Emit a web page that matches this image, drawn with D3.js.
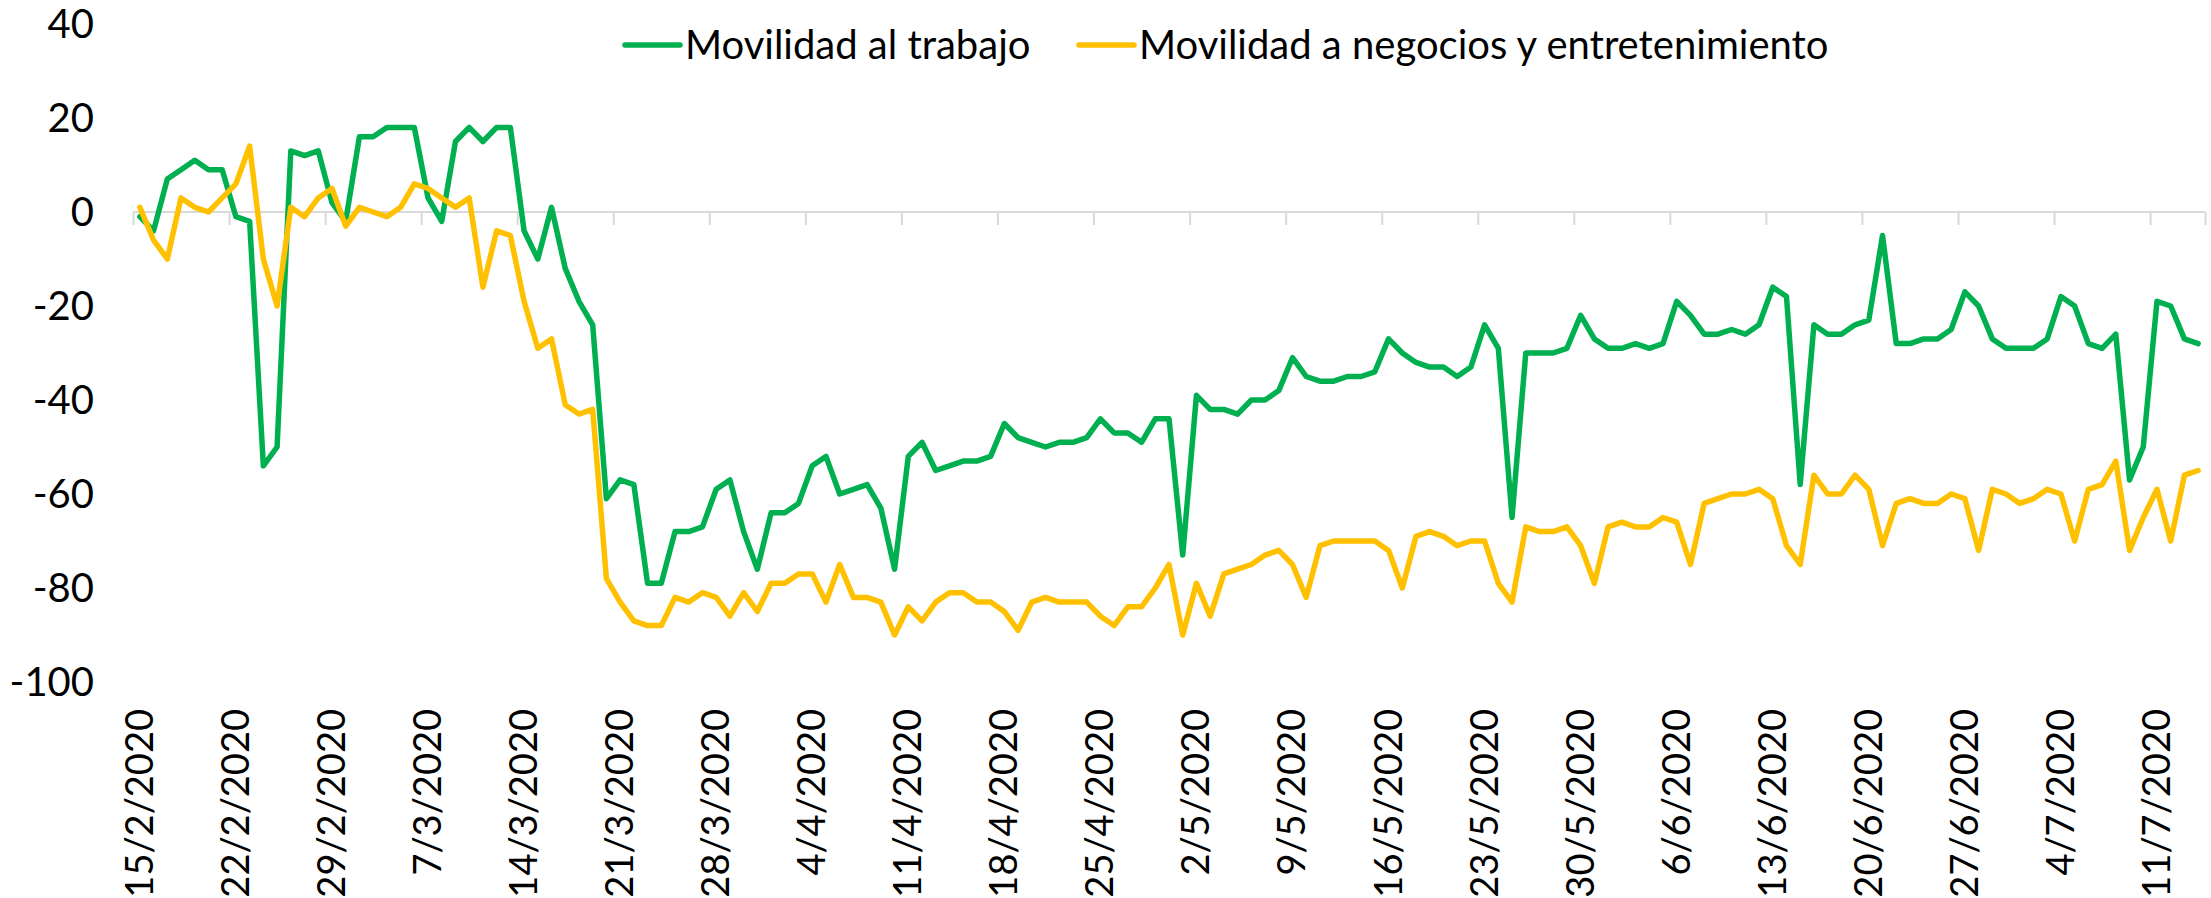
<!DOCTYPE html>
<html lang="es">
  <head>
    <meta charset="utf-8">
    <title>Movilidad</title>
    <script type="text/javascript" src="https://cdn.jsdelivr.net/npm/d3@7"></script>
<style>
body {
   margin: 0;
   background: #ffffff;
}
svg text {
   font-family: Lato, "Open Sans", sans-serif;
   fill: #000000;
}
</style>
  </head>
  <body>
    <script type="text/javascript">
      //
      // Movilidad diaria, 15/2/2020 - 14/7/2020
      //
      var firstDay = new Date(2020, 1, 15);
      var lastDay = new Date(2020, 6, 15);   // exclusive
      var days = d3.timeDay.range(firstDay, lastDay);

      var seriesNames = ["Movilidad al trabajo", "Movilidad a negocios y entretenimiento"];

      var trabajo = [
        -1, -4, 7, 9, 11, 9, 9, -1, -2, -54, -50, 13, 12, 13, 2, -2, 16, 16, 18, 18,
        18, 3, -2, 15, 18, 15, 18, 18, -4, -10, 1, -12, -19, -24, -61, -57, -58, -79, -79, -68,
        -68, -67, -59, -57, -68, -76, -64, -64, -62, -54, -52, -60, -59, -58, -63, -76, -52, -49, -55, -54,
        -53, -53, -52, -45, -48, -49, -50, -49, -49, -48, -44, -47, -47, -49, -44, -44, -73, -39, -42, -42,
        -43, -40, -40, -38, -31, -35, -36, -36, -35, -35, -34, -27, -30, -32, -33, -33, -35, -33, -24, -29,
        -65, -30, -30, -30, -29, -22, -27, -29, -29, -28, -29, -28, -19, -22, -26, -26, -25, -26, -24, -16,
        -18, -58, -24, -26, -26, -24, -23, -5, -28, -28, -27, -27, -25, -17, -20, -27, -29, -29, -29, -27,
        -18, -20, -28, -29, -26, -57, -50, -19, -20, -27, -28
      ];

      var negocios = [
        1, -6, -10, 3, 1, 0, 3, 6, 14, -10, -20, 1, -1, 3, 5, -3, 1, 0, -1, 1,
        6, 5, 3, 1, 3, -16, -4, -5, -19, -29, -27, -41, -43, -42, -78, -83, -87, -88, -88, -82,
        -83, -81, -82, -86, -81, -85, -79, -79, -77, -77, -83, -75, -82, -82, -83, -90, -84, -87, -83, -81,
        -81, -83, -83, -85, -89, -83, -82, -83, -83, -83, -86, -88, -84, -84, -80, -75, -90, -79, -86, -77,
        -76, -75, -73, -72, -75, -82, -71, -70, -70, -70, -70, -72, -80, -69, -68, -69, -71, -70, -70, -79,
        -83, -67, -68, -68, -67, -71, -79, -67, -66, -67, -67, -65, -66, -75, -62, -61, -60, -60, -59, -61,
        -71, -75, -56, -60, -60, -56, -59, -71, -62, -61, -62, -62, -60, -61, -72, -59, -60, -62, -61, -59,
        -60, -70, -59, -58, -53, -72, -65, -59, -70, -56, -55
      ];

      var yTicks = [40, 20, 0, -20, -40, -60, -80, -100];
      var xTickLabels = [
        "15/2/2020", "22/2/2020", "29/2/2020", "7/3/2020", "14/3/2020", "21/3/2020",
        "28/3/2020", "4/4/2020", "11/4/2020", "18/4/2020", "25/4/2020", "2/5/2020",
        "9/5/2020", "16/5/2020", "23/5/2020", "30/5/2020", "6/6/2020", "13/6/2020",
        "20/6/2020", "27/6/2020", "4/7/2020", "11/7/2020"
      ];

      var width = 2211;
      var height = 898;
      var plotLeft = 133;
      var plotRight = 2205;
      var plotTop = 24;
      var plotBottom = 682;

      var parseLabel = d3.timeParse("%d/%m/%Y");

      var x = d3.scaleTime()
        .domain([firstDay, lastDay])
        .range([plotLeft, plotRight]);
      var y = d3.scaleLinear()
        .domain([-100, 40])
        .range([plotBottom, plotTop]);

      // centre of each day
      var mid = function(d) {
        return x(d3.timeHour.offset(d, 12));
      };

      var svg = d3.select("body")
        .append("svg")
        .attr("width", width)
        .attr("height", height);

      // horizontal axis drawn on the zero line, with weekly tick marks
      var xAxis = d3.axisBottom(x)
        .tickValues(d3.timeDay.range(firstDay, lastDay, 7).concat([lastDay]))
        .tickSize(13)
        .tickSizeOuter(0)
        .tickFormat("");
      var gx = svg.append("g")
        .attr("transform", "translate(0," + y(0) + ")")
        .call(xAxis);
      gx.selectAll("path, line")
        .attr("stroke", "#d9d9d9")
        .attr("stroke-width", 2);
      gx.select("path").attr("d", "M" + plotLeft + ",0H" + plotRight);

      // vertical axis labels only
      svg.append("g")
        .selectAll("text")
        .data(yTicks)
        .enter()
        .append("text")
        .attr("x", 94)
        .attr("y", function(d) { return y(d); })
        .attr("dy", "0.36em")
        .attr("text-anchor", "end")
        .attr("font-size", "40px")
        .text(function(d) { return d; });

      // date labels, rotated, at the bottom
      svg.append("g")
        .selectAll("text")
        .data(xTickLabels)
        .enter()
        .append("text")
        .attr("transform", function(d) {
          return "translate(" + (mid(parseLabel(d)) + 13) + ",709) rotate(-90)";
        })
        .attr("text-anchor", "end")
        .attr("font-size", "38px")
        .text(function(d) { return d; });

      var line = d3.line()
        .x(function(d, i) { return mid(days[i]); })
        .y(function(d) { return y(d); });

      var colors = ["#00b050", "#ffc000"];
      var series = [trabajo, negocios];

      svg.selectAll("path.serie")
        .data(series)
        .enter()
        .append("path")
        .attr("class", "serie")
        .attr("fill", "none")
        .attr("stroke", function(d, i) { return colors[i]; })
        .attr("stroke-width", 5.5)
        .attr("stroke-linejoin", "round")
        .attr("stroke-linecap", "round")
        .attr("d", line);

      // legend
      var legendX = [625, 1079];
      var legend = svg.append("g")
        .selectAll("g")
        .data(seriesNames)
        .enter()
        .append("g")
        .attr("transform", function(d, i) { return "translate(" + legendX[i] + ",45)"; });
      legend.append("line")
        .attr("x1", 0)
        .attr("x2", 55)
        .attr("stroke", function(d, i) { return colors[i]; })
        .attr("stroke-width", 5.5)
        .attr("stroke-linecap", "round");
      legend.append("text")
        .attr("x", 60)
        .attr("dy", "0.36em")
        .attr("font-size", "40px")
        .text(function(d) { return d; });
    </script>
  </body>
</html>
